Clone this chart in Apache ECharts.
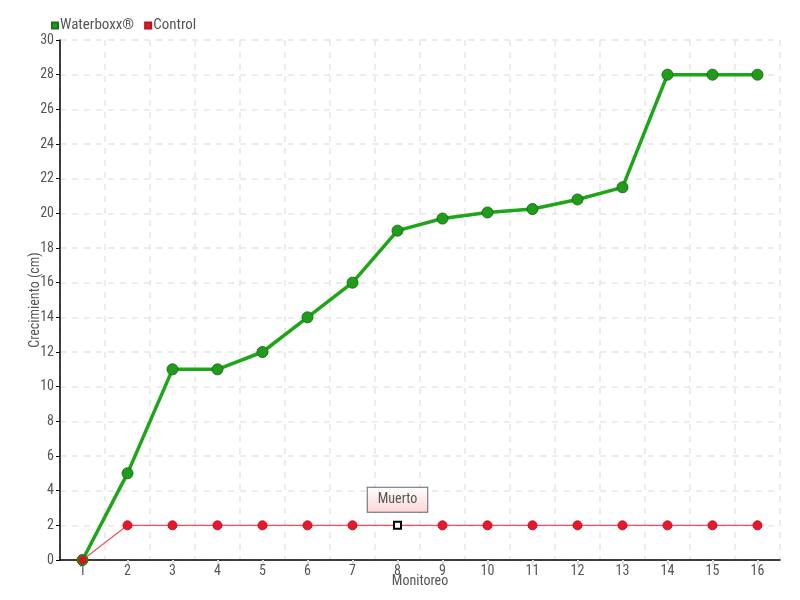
<!DOCTYPE html>
<html><head><meta charset="utf-8">
<script src="https://cdn.jsdelivr.net/npm/echarts@6/dist/echarts.min.js"></script>
<style>html,body{margin:0;padding:0;background:#fff}#c{width:800px;height:600px}</style>
</head><body><div id="c"></div>
<script>
const categories = ['1','2','3','4','5','6','7','8','9','10','11','12','13','14','15','16'];
const waterboxx = [0,5,11,11,12,14,16,19,19.7,20.05,20.25,20.8,21.5,28,28,28];
const control = [0,2,2,2,2,2,2,2,2,2,2,2,2,2,2,2];
const yTicks = {min:0, max:30, interval:2};
const deadIndex = 7;
const deadLabel = 'Muerto';

const font = '"Liberation Sans Narrow","Roboto Condensed","Roboto","Liberation Sans",sans-serif';
const chart = echarts.init(document.getElementById('c'));
const controlData = control.map((v,i)=>{
  if(i===0) return {value:v, itemStyle:{color:'#e01020',borderColor:'#1a8a1a',borderWidth:1}};
  if(i===deadIndex) return {value:v, symbol:'rect', symbolSize:7,
    itemStyle:{color:'#fff',borderColor:'#000',borderWidth:2},
    label:{show:true, formatter:deadLabel, position:'top', distance:9,
      color:'#555', fontFamily:font, fontSize:14,
      backgroundColor:{type:'linear',x:0,y:0,x2:0,y2:1,colorStops:[{offset:0,color:'#fff'},{offset:1,color:'#fbd4d4'}]},
      borderColor:'#666', borderWidth:1, padding:[5,10,5,10]}};
  return v;
});
chart.setOption({
  animation:false,
  textStyle:{fontFamily:font},
  legend:{left:46, top:13, itemWidth:6, itemHeight:6, itemGap:10,
    textStyle:{fontFamily:font, fontSize:15, color:'#555', padding:[0,0,0,-3]},
    data:[{name:'Waterboxx®', icon:'rect'},{name:'Control', icon:'rect'}]},
  grid:{left:60, right:20, top:40, bottom:40, outerBoundsMode:'none', containLabel:false},
  xAxis:{type:'category', data:categories, boundaryGap:true,
    name:'Monitoreo', nameLocation:'middle', nameGap:14, nameMoveOverlap:false,
    nameTextStyle:{fontFamily:font, fontSize:14, color:'#555'},
    axisLine:{lineStyle:{color:'#000', width:1.5}},
    axisTick:{show:true, alignWithLabel:true, length:5, lineStyle:{color:'#ddd', width:2}},
    axisLabel:{fontFamily:font, fontSize:14, color:'#555', margin:4},
    splitLine:{show:true, interval:0, lineStyle:{type:[6,6], color:'#e6e6e6', width:1.5}}},
  yAxis:{type:'value', min:yTicks.min, max:yTicks.max, interval:yTicks.interval,
    name:'Crecimiento (cm)', nameLocation:'middle', nameGap:18, nameMoveOverlap:false,
    nameTextStyle:{fontFamily:font, fontSize:14, color:'#555'},
    axisLine:{show:true, lineStyle:{color:'#000', width:1.5}},
    axisTick:{show:true, length:4, lineStyle:{color:'#000'}},
    axisLabel:{fontFamily:font, fontSize:14, color:'#555', margin:6},
    splitLine:{show:true, lineStyle:{type:[6,6], color:'#e6e6e6', width:1.5}}},
  series:[
    {name:'Waterboxx®', type:'line', data:waterboxx, symbol:'circle', symbolSize:11, z:2,
      color:'#22a01a',
      lineStyle:{color:'#1fa51a', width:3.5},
      itemStyle:{color:'#229a1a', borderColor:'#17701a', borderWidth:1}},
    {name:'Control', type:'line', data:controlData, symbol:'circle', symbolSize:9, z:3,
      color:'#e8182a',
      lineStyle:{color:'#f05060', width:1.2},
      itemStyle:{color:'#e8182a', borderColor:'#c01020', borderWidth:1}}
  ]
});
</script></body></html>
